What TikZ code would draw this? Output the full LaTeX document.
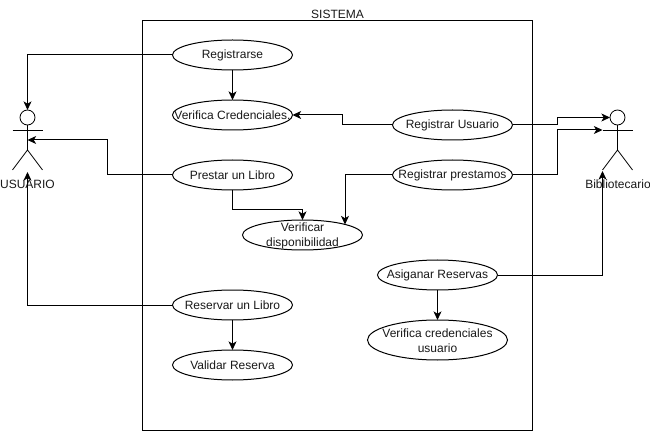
\documentclass[tikz,border=0pt]{standalone}
\usepackage{fontspec}
\setmainfont{Liberation Sans}
\usetikzlibrary{shapes.geometric,arrows.meta}
\tikzset{
  every node/.style={font=\fontsize{9}{11.25}\selectfont},
  lbl/.style={align=center,inner sep=0pt,text=black!90},
  lbltwo/.style={lbl,yshift=-0.75pt},
  uc/.style={ellipse,draw,fill=white,line width=0.75pt,inner sep=0pt,outer sep=0pt,minimum width=90pt,minimum height=22.5pt},
  conn/.style={line width=0.75pt,-{Stealth[length=6.5pt,width=6pt,inset=1.8pt]}},
  stick/.style={line width=0.6pt},
  headc/.style={circle,draw,line width=0.6pt,minimum size=11.25pt,inner sep=0pt,outer sep=0pt},
  sysbox/.style={draw,line width=0.75pt,rectangle,inner sep=0pt,outer sep=0pt,minimum width=292.5pt,minimum height=307.5pt}
}
\begin{document}
\begin{tikzpicture}[x=0.75pt,y=-0.75pt]
\useasboundingbox (0,0) rectangle (650,431);
\node[sysbox] (sys) at (337.5,225.3) {};
\node[lbl] (systitle) at (337.5,14.5) {SISTEMA};

% use cases
\node[uc,label={[lbl]center:Registrarse}] (reg) at (232.5,55) {};
\node[uc,label={[lbl]center:Verifica Credenciales.}] (vcr) at (232.5,115) {};
\node[uc,label={[lbl]center:Prestar un Libro}] (pre) at (232.5,175) {};
\node[uc,label={[lbltwo]center:Verificar\\disponibilidad}] (vdi) at (302.5,235) {};
\node[uc,label={[lbl]center:Reservar un Libro}] (res) at (232.5,305) {};
\node[uc,label={[lbl]center:Validar Reserva}] (val) at (232.5,365) {};
\node[uc,label={[lbl]center:Registrar Usuario}] (rus) at (452.5,125) {};
\node[uc,label={[lbl]center:Registrar prestamos}] (rpr) at (452.5,175) {};
\node[uc,label={[lbl]center:Asiganar Reservas}] (asi) at (437.5,275) {};
\node[uc,minimum width=105pt,minimum height=30pt,label={[lbltwo]center:Verifica credenciales\\usuario}] (vcu) at (437.5,340) {};

% actor USUARIO
\node[headc] (uh) at (27.5,117.5) {};
\coordinate (ub) at (27.5,150);
\coordinate (ua) at (27.5,140);
\coordinate (uf) at (27.5,172);
\draw[stick] (uh.south) -- (ub);
\draw[stick] (12.5,130) -- (42.5,130);
\draw[stick] (12.5,170) -- (ub) -- (42.5,170);
\node[lbl] (ul) at (27.5,184) {USUARIO};

% actor Bibliotecario
\node[headc] (bh) at (617.5,117.5) {};
\coordinate (bb) at (617.5,150);
\coordinate (ba) at (602.5,130);
\coordinate (bf) at (602.5,171);
\draw[stick] (bh.south) -- (bb);
\draw[stick] (ba) -- (632.5,130);
\draw[stick] (602.5,170) -- (bb) -- (632.5,170);
\node[lbl] (bl) at (618,184) {Bibliotecario};

% connectors
\draw[conn] (reg.west) -| (uh.north);
\draw[conn] (pre.west) -- ++(-65,0) |- (ua);
\draw[conn] (res.west) -| (uf);
\draw[conn] (reg) -- (vcr);
\draw[conn] (rus.west) -- ++(-50,0) |- (vcr.east);
\draw[conn] (rus.east) -- ++(45,0) |- (bh.west);
\draw[conn] (rpr.east) -- ++(45,0) |- (ba);
\coordinate (vdin) at (345,224.5);
\draw[conn] (rpr.west) -| (vdin);
\draw[conn] (pre.south) -- ++(0,20) -| (vdi.north);
\draw[conn] (asi.east) -| (bf);
\draw[conn] (res) -- (val);
\draw[conn] (asi) -- (vcu);
\end{tikzpicture}
\end{document}
